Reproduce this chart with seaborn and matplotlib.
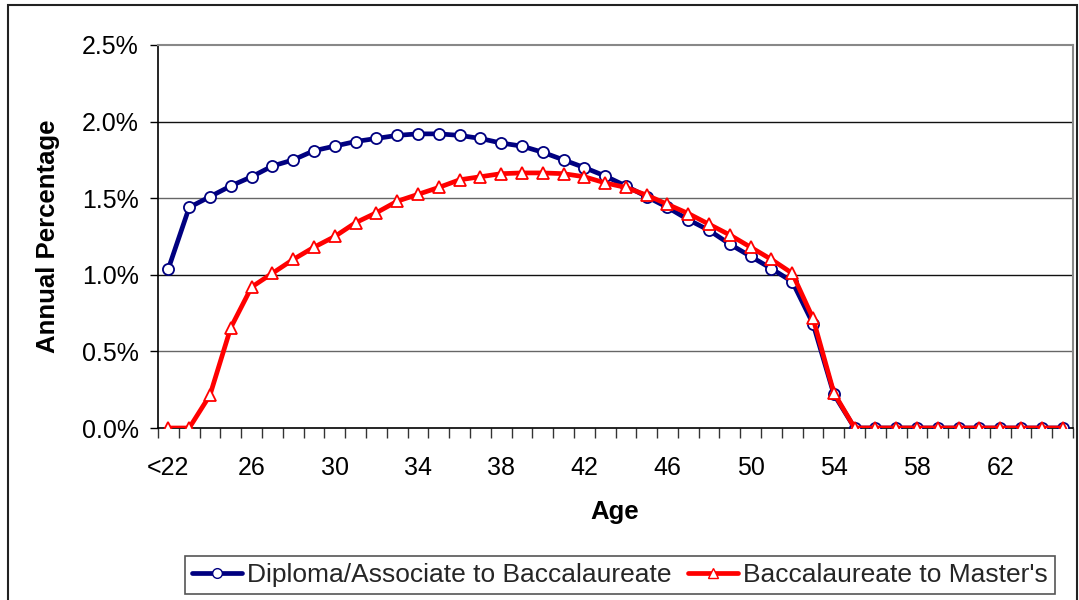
import matplotlib
matplotlib.use("Agg")
import matplotlib.pyplot as plt
import seaborn as sns
import pandas as pd
import numpy as np
from matplotlib.patches import Rectangle
from matplotlib.lines import Line2D
from matplotlib.ticker import FixedLocator, FuncFormatter

ages = list(range(22, 66))
tick_ages = [22, 26, 30, 34, 38, 42, 46, 50, 54, 58, 62]
tick_labels = ["<22", "26", "30", "34", "38", "42", "46", "50", "54", "58", "62"]

diploma = [1.04, 1.44, 1.51, 1.58, 1.64, 1.71, 1.75, 1.81, 1.84, 1.87,
           1.89, 1.91, 1.92, 1.92, 1.91, 1.89, 1.86, 1.84, 1.80, 1.75,
           1.70, 1.645, 1.58, 1.51, 1.44, 1.36, 1.29, 1.20, 1.12, 1.04,
           0.955, 0.68, 0.22, 0, 0, 0, 0, 0, 0, 0, 0, 0, 0, 0]
masters = [0, 0, 0.215, 0.655, 0.92, 1.01, 1.10, 1.18, 1.25, 1.34,
           1.405, 1.48, 1.525, 1.57, 1.62, 1.64, 1.66, 1.665, 1.665, 1.66,
           1.64, 1.60, 1.57, 1.52, 1.46, 1.40, 1.33, 1.26, 1.18, 1.10,
           1.01, 0.715, 0.23, 0, 0, 0, 0, 0, 0, 0, 0, 0, 0, 0]

series_names = ["Diploma/Associate to Baccalaureate", "Baccalaureate to Master's"]

df = pd.DataFrame({
    "Age": ages * 2,
    "Value": diploma + masters,
    "Series": [series_names[0]] * len(ages) + [series_names[1]] * len(ages),
})

sns.set_theme(style="white")
plt.rcParams["font.family"] = ["Liberation Sans", "DejaVu Sans"]

fig = plt.figure(figsize=(10.79, 6.0), dpi=100)
W, H = 1079, 600
ax = fig.add_axes([158 / W, 1 - 428 / H, (1073 - 158) / W, (428 - 45) / H])

palette = {series_names[0]: "#000080", series_names[1]: "#FF0000"}
markers = {series_names[0]: "o", series_names[1]: "^"}

sns.lineplot(data=df, x="Age", y="Value", hue="Series", style="Series",
             palette=palette, markers=markers, dashes=False, ax=ax,
             linewidth=3.4, markersize=8, markerfacecolor="white",
             markeredgewidth=1.3, legend=False, zorder=3)
for line, name in zip(ax.get_lines(), series_names):
    line.set_markeredgecolor(palette[name])

ax.set_xlim(21.5, 65.5)
ax.set_ylim(0, 2.5)
ax.set_yticks([0, 0.5, 1.0, 1.5, 2.0, 2.5])
ax.yaxis.set_major_formatter(FuncFormatter(lambda v, p: f"{v:.1f}%"))
ax.set_xticks(tick_ages)
ax.set_xticklabels(tick_labels)
ax.xaxis.set_minor_locator(FixedLocator(np.arange(21.5, 66.0, 1.0)))

for y in [0.5, 1.0, 1.5, 2.0]:
    ax.axhline(y, color="#111111" if y in (1.0, 2.0) else "#666666", lw=1.0, zorder=1)

ax.tick_params(axis="x", which="major", length=0, pad=20, labelsize=18, colors="black")
ax.tick_params(axis="x", which="minor", length=7, width=1.0, color="#333333", direction="out", bottom=True)
ax.tick_params(axis="y", which="major", length=6, width=1.0, color="black", direction="out",
               left=True, labelsize=18, pad=8, colors="black")

for s in ["left", "bottom"]:
    ax.spines[s].set_color("black")
    ax.spines[s].set_linewidth(1.2)
for s in ["top", "right"]:
    ax.spines[s].set_color("#888888")
    ax.spines[s].set_linewidth(1.5)
    ax.spines[s].set_visible(True)

ax.set_xlabel("Age", fontsize=18.5, fontweight="bold", color="black", va="center")
ax.set_ylabel("Annual Percentage", fontsize=18.5, fontweight="bold", color="black", va="center")
ax.xaxis.set_label_coords((615 - 158) / (1073 - 158), (428 - 512) / (428 - 45))
ax.yaxis.set_label_coords((48 - 158) / (1073 - 158), (428 - 236) / (428 - 45))

handles = [Line2D([], [], color=palette[n], marker=markers[n], markerfacecolor="white",
                  markeredgecolor=palette[n], markersize=7, lw=3.4) for n in series_names]
leg = fig.legend(handles, series_names, loc="center", bbox_to_anchor=(620 / W, 1 - 575 / H),
                 ncol=2, frameon=True, fancybox=False, edgecolor="#555555", framealpha=1,
                 prop={"family": ["Liberation Sans", "DejaVu Sans"], "size": 19},
                 handlelength=1.9, handletextpad=0.2, columnspacing=0.6, borderpad=0.25,
                 borderaxespad=0)
leg.get_frame().set_linewidth(1.2)

fig.patches.append(Rectangle((8 / W, -0.05), (1077 - 8) / W, 1.05 - 5 / H,
                             transform=fig.transFigure, fill=False, edgecolor="#222222",
                             lw=1.5))

fig.savefig("out.png", dpi=100)
